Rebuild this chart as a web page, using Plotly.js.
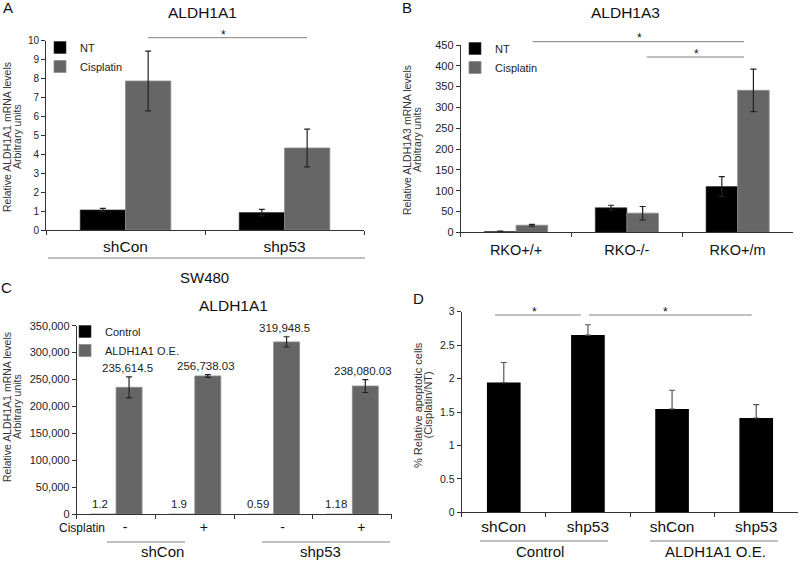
<!DOCTYPE html>
<html>
<head>
<meta charset="utf-8">
<script src="https://cdn.plot.ly/plotly-3.0.1.min.js"></script>
<style>html,body{margin:0;padding:0;background:#fff;}#chart{width:800px;height:562px;}</style>
</head>
<body>
<div id="chart"></div>
<script>
// ---------- Data ----------
// Panel A (ALDH1A1, SW480)
const catsA = ["shCon", "shp53"];
const ntA = [1.06, 0.92];
const ntErrA = [0.08, 0.17];
const cisA = [7.87, 4.33];
const cisErrA = [1.58, 1.0];

// Panel B (ALDH1A3, RKO)
const catsB = ["RKO+/+", "RKO-/-", "RKO+/m"];
const ntB = [2, 59, 110];
const ntErrB = [1, 6, 24];
const cisB = [17, 46, 341];
const cisErrB = [2, 16, 51];

// Panel C (ALDH1A1 over-expression)
const groupC = ["shCon", "shCon", "shp53", "shp53"];
const cisSignC = ["-", "+", "-", "+"];
const controlC = [1.2, 1.9, 0.59, 1.18];
const oeC = [235614.5, 256738.03, 319948.5, 238080.03];
const oeErrC = [19500, 2500, 9500, 12000];

// Panel D (% relative apoptotic cells)
const groupD = ["Control", "Control", "ALDH1A1 O.E.", "ALDH1A1 O.E."];
const shD = ["shCon", "shp53", "shCon", "shp53"];
const valD = [1.94, 2.65, 1.545, 1.41];
const errUpD = [0.30, 0.155, 0.28, 0.20];
const errDownD = [0, 0, 0, 0];

// ---------- Helpers ----------
const W = 800, H = 562;
const px = x => x / W;
const py = y => 1 - y / H;
const FONT = "Liberation Sans, Arial, sans-serif";
const BLACK = "#000000", GRAY = "#666666";
const catsC = groupC.map((g, i) => g + " " + cisSignC[i]);
const catsD = groupD.map((g, i) => g + " " + shD[i]);
const fmt = v => v.toLocaleString("en-US", {maximumFractionDigits: 2});

function errObj(arr, color) {
  return {type: "data", array: arr, visible: true, color: color || "#222", thickness: 1.2, width: 3};
}

const traces = [
  // A
  {type: "bar", x: catsA, y: ntA, name: "NT", xaxis: "x", yaxis: "y", legend: "legend",
   marker: {color: BLACK, line: {color: "#333", width: 0.6}}, width: 0.285, offset: -0.285,
   error_y: errObj(ntErrA)},
  {type: "bar", x: catsA, y: cisA, name: "Cisplatin", xaxis: "x", yaxis: "y", legend: "legend",
   marker: {color: GRAY, line: {color: "#8c8c8c", width: 0.8}}, width: 0.285, offset: 0,
   error_y: errObj(cisErrA)},
  // B
  {type: "bar", x: catsB, y: ntB, name: "NT", xaxis: "x2", yaxis: "y2", legend: "legend2",
   marker: {color: BLACK, line: {color: "#333", width: 0.6}}, width: 0.285, offset: -0.285,
   error_y: errObj(ntErrB)},
  {type: "bar", x: catsB, y: cisB, name: "Cisplatin", xaxis: "x2", yaxis: "y2", legend: "legend2",
   marker: {color: GRAY, line: {color: "#8c8c8c", width: 0.8}}, width: 0.285, offset: 0,
   error_y: errObj(cisErrB)},
  // C
  {type: "bar", x: catsC, y: controlC, name: "Control", xaxis: "x3", yaxis: "y3", legend: "legend3",
   marker: {color: BLACK, line: {color: "#333", width: 0.6}}, width: 0.33, offset: -0.33},
  {type: "bar", x: catsC, y: oeC, name: "ALDH1A1 O.E.", xaxis: "x3", yaxis: "y3", legend: "legend3",
   marker: {color: GRAY, line: {color: "#8c8c8c", width: 0.8}}, width: 0.33, offset: 0,
   error_y: errObj(oeErrC)},
  // D
  {type: "bar", x: catsD, y: valD, name: "Apoptotic cells", xaxis: "x4", yaxis: "y4", showlegend: false,
   marker: {color: BLACK}, width: 0.4, offset: -0.2,
   error_y: {type: "data", symmetric: false, array: errUpD, arrayminus: errDownD, visible: true,
             color: "#555", thickness: 1.2, width: 3}}
];

const axisBase = {
  showgrid: false, zeroline: false, showline: true, linecolor: "#333", linewidth: 1,
  ticks: "outside", ticklen: 4, tickcolor: "#333", tickwidth: 1, fixedrange: true,
  tickfont: {family: FONT, size: 10.5, color: "#222"}
};
const xBase = Object.assign({}, axisBase, {type: "category", tickson: "boundaries"});

const legendBase = {xanchor: "left", yanchor: "top", bgcolor: "rgba(0,0,0,0)",
  font: {family: FONT, size: 11, color: "#222"}, tracegroupgap: 0, itemwidth: 30};

const layout = {
  width: W, height: H, margin: {l: 0, r: 0, t: 0, b: 0},
  paper_bgcolor: "#fff", plot_bgcolor: "rgba(0,0,0,0)",
  font: {family: FONT, color: "#222"},
  barmode: "group",
  xaxis: Object.assign({}, xBase, {domain: [px(46), px(364)], anchor: "y",
    range: [-0.5, 1.5], tickfont: {family: FONT, size: 15.5, color: "#111"}, ticklabelstandoff: 2}),
  yaxis: Object.assign({}, axisBase, {domain: [py(230), py(40.7)], anchor: "x",
    range: [0, 10], dtick: 1, tickfont: {family: FONT, size: 10, color: "#222"}}),
  xaxis2: Object.assign({}, xBase, {domain: [px(460.7), px(793)], anchor: "y2",
    range: [-0.5, 2.5], tickfont: {family: FONT, size: 14.5, color: "#111"}, ticklabelstandoff: 4}),
  yaxis2: Object.assign({}, axisBase, {domain: [py(232.3), py(45)], anchor: "x2",
    range: [0, 450], dtick: 50, tickfont: {family: FONT, size: 11, color: "#222"}}),
  xaxis3: Object.assign({}, xBase, {domain: [px(76.7), px(391.7)], anchor: "y3",
    range: [-0.5, 3.5], tickmode: "array", tickvals: catsC, ticktext: cisSignC, ticklabelshift: 9,
    tickfont: {family: FONT, size: 14, color: "#111"}}),
  yaxis3: Object.assign({}, axisBase, {domain: [py(514.3), py(325.7)], anchor: "x3",
    range: [0, 350000], dtick: 50000, tickformat: ",d", tickfont: {family: FONT, size: 11, color: "#222"}}),
  xaxis4: Object.assign({}, xBase, {domain: [px(461.7), px(798.3)], anchor: "y4",
    range: [-0.5, 3.5], tickmode: "array", tickvals: catsD, ticktext: shD,
    tickfont: {family: FONT, size: 15.5, color: "#111"}}),
  yaxis4: Object.assign({}, axisBase, {domain: [py(512.3), py(311.7)], anchor: "x4",
    range: [0, 3], dtick: 0.5, tickfont: {family: FONT, size: 10.5, color: "#222"}}),
  legend: Object.assign({}, legendBase, {x: px(40), y: py(33)}),
  legend2: Object.assign({}, legendBase, {x: px(455), y: py(34)}),
  legend3: Object.assign({}, legendBase, {x: px(65), y: py(317)}),
  shapes: [],
  annotations: []
};

const ann = layout.annotations, shp = layout.shapes;
function text(t, x, y, size, opts) {
  ann.push(Object.assign({text: t, x: px(x), y: py(y), xref: "paper", yref: "paper",
    showarrow: false, xanchor: "center", yanchor: "middle",
    font: {family: FONT, size: size, color: "#111"}}, opts || {}));
}
function hline(x0, x1, y, color) {
  shp.push({type: "line", xref: "paper", yref: "paper", x0: px(x0), x1: px(x1), y0: py(y), y1: py(y),
    line: {color: color || "#808080", width: 1}});
}

// Panel letters and titles
text("A", 8, 8, 15);
text("B", 407, 7, 15);
text("C", 6, 287, 15);
text("D", 418, 298, 15);
text("ALDH1A1", 203, 12, 15.5);
text("ALDH1A3", 625, 12, 15.5);
text("ALDH1A1", 233, 305, 15.5);

// Y-axis titles
const ytf = s => ({textangle: -90, font: {family: FONT, size: s, color: "#333"}});
text("Relative ALDH1A1 mRNA levels", 7, 137, 10.5, ytf(10.5));
text("Arbitrary units", 17, 137, 10.5, ytf(10.5));
text("Relative ALDH1A3 mRNA levels", 407, 140, 10.5, ytf(10.5));
text("Arbitrary units", 417, 140, 10.5, ytf(10.5));
text("Relative ALDH1A1 mRNA levels", 7, 407, 10.5, ytf(10.5));
text("Arbitrary units", 17, 407, 10.5, ytf(10.5));
text("% Relative apoptotic cells", 418, 405, 11, ytf(11));
text("(Cisplatin/NT)", 427.5, 405, 11, ytf(11));

// Group labels
hline(48, 365, 258);
text("SW480", 205, 277, 15);
text("Cisplatin", 82, 528, 12);
hline(107, 185, 542);
hline(262, 390, 542);
text("shCon", 162, 562, 15, {yanchor: "bottom"});
text("shp53", 320, 562, 15, {yanchor: "bottom"});
hline(480, 608, 541);
hline(650, 778, 541);
text("Control", 540, 562, 15, {yanchor: "bottom"});
text("ALDH1A1 O.E.", 715, 562, 15, {yanchor: "bottom"});

// Significance markers
hline(148, 307, 37.7);
text("*", 223, 35, 12);
hline(532.7, 744, 41.7);
text("*", 639, 38, 12);
hline(646.7, 744, 57);
text("*", 696, 54, 12);
hline(495, 580.7, 315);
text("*", 534, 312, 12);
hline(589, 751.7, 315);
text("*", 665.7, 312, 12);

// Value labels in panel C (from data)
catsC.forEach((c, i) => {
  ann.push({text: fmt(oeC[i]), x: c, y: oeC[i] + oeErrC[i], xref: "x3", yref: "y3",
    showarrow: false, xanchor: "center", yanchor: "bottom", xshift: 11, yshift: 1,
    font: {family: FONT, size: 11.5, color: "#222"}});
  ann.push({text: fmt(controlC[i]), x: c, y: controlC[i], xref: "x3", yref: "y3",
    showarrow: false, xanchor: "center", yanchor: "bottom", xshift: -16, yshift: 2,
    font: {family: FONT, size: 11.5, color: "#222"}});
});

Plotly.newPlot("chart", traces, layout, {displayModeBar: false, staticPlot: true});
</script>
</body>
</html>
